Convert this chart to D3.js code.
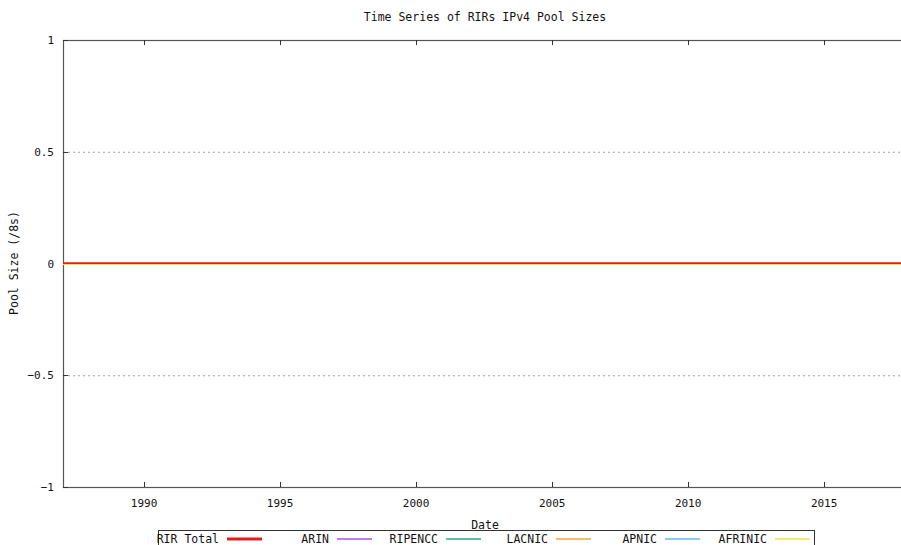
<!DOCTYPE html>
<html>
  <meta charset="utf-8" />
  <head>
    <title>RIR pool sizes</title>
    <script src="https://d3js.org/d3.v7.min.js"></script>
  </head>
  <style>
  body { margin: 0; background: #fff; }
  text { font-family: "DejaVu Sans Mono", monospace; fill: #111; }
  </style>
  <body>
  <svg width="901" height="545"></svg>
  <script>
    // sample dates (all pools read as zero over the whole range)
    var dates = ["1987-01-08", "1990-01-01", "1995-01-01", "2000-01-01", "2005-01-01", "2010-01-01", "2015-01-01", "2017-11-25"];
    var rirTotal = [0, 0, 0, 0, 0, 0, 0, 0];
    var arin     = [0, 0, 0, 0, 0, 0, 0, 0];
    var ripencc  = [0, 0, 0, 0, 0, 0, 0, 0];
    var lacnic   = [0, 0, 0, 0, 0, 0, 0, 0];
    var apnic    = [0, 0, 0, 0, 0, 0, 0, 0];
    var afrinic  = [0, 0, 0, 0, 0, 0, 0, 0];
    var seriesNames = ["RIR Total", "ARIN", "RIPENCC", "LACNIC", "APNIC", "AFRINIC"];
    var yTicks = [-1, -0.5, 0, 0.5, 1];
    var xTickYears = [1990, 1995, 2000, 2005, 2010, 2015];

    (function() {
    var parse = d3.timeParse("%Y-%m-%d");
    var colors = ["#e41c1c", "#b050ee", "#1fae88", "#f0a832", "#5fb8ee", "#f2e045"];
    var allValues = [rirTotal, arin, ripencc, lacnic, apnic, afrinic];
    var series = seriesNames.map(function(name, i) {
      return {name: name, color: colors[i], width: i == 0 ? 2.5 : 1.2,
        values: dates.map(function(d, j) { return {date: parse(d), v: allValues[i][j]}; })};
    });

    var svg = d3.select("svg"),
      mLeft = 63, mTop = 40, mRight = 903, mBottom = 487;

    var x = d3.scaleTime()
      .domain([parse("1987-01-08"), parse("2017-11-25")])
      .range([mLeft, mRight]);
    var y = d3.scaleLinear()
      .domain([-1, 1])
      .range([mBottom, mTop]);

    // dotted grid
    svg.append("g").selectAll("line")
      .data(yTicks.filter(function(d) { return d != 1 && d != -1; }))
      .enter().append("line")
        .attr("x1", mLeft).attr("x2", mRight)
        .attr("y1", function(d) { return y(d) + 0.5; })
        .attr("y2", function(d) { return y(d) + 0.5; })
        .attr("stroke", "#a0a0a0")
        .attr("stroke-dasharray", "2,3");

    // frame (right side runs off the image)
    svg.append("rect")
      .attr("x", mLeft + 0.5).attr("y", mTop + 0.5)
      .attr("width", mRight - mLeft + 20).attr("height", mBottom - mTop)
      .attr("fill", "none").attr("stroke", "#555").attr("stroke-width", 1.2);

    // x ticks, bottom + top, pointing inside
    var xt = xTickYears.map(function(yr) { return new Date(yr, 0, 1); });
    var xg = svg.append("g");
    xg.selectAll(".tb").data(xt).enter().append("line")
      .attr("x1", function(d) { return Math.round(x(d)) + 0.5; })
      .attr("x2", function(d) { return Math.round(x(d)) + 0.5; })
      .attr("y1", mBottom).attr("y2", mBottom - 5).attr("stroke", "#333");
    xg.selectAll(".tt").data(xt).enter().append("line")
      .attr("x1", function(d) { return Math.round(x(d)) + 0.5; })
      .attr("x2", function(d) { return Math.round(x(d)) + 0.5; })
      .attr("y1", mTop).attr("y2", mTop + 5).attr("stroke", "#333");
    xg.selectAll("text").data(xt).enter().append("text")
      .attr("x", function(d) { return x(d); })
      .attr("y", mBottom + 20)
      .attr("text-anchor", "middle")
      .attr("font-size", 11)
      .text(d3.timeFormat("%Y"));

    // y ticks
    var yg = svg.append("g");
    yg.selectAll("line").data(yTicks).enter().append("line")
      .attr("x1", mLeft).attr("x2", mLeft + 5)
      .attr("y1", function(d) { return Math.round(y(d)) + 0.5; })
      .attr("y2", function(d) { return Math.round(y(d)) + 0.5; })
      .attr("stroke", "#333");
    yg.selectAll("text").data(yTicks).enter().append("text")
      .attr("x", 54)
      .attr("y", function(d) { return y(d) + 4; })
      .attr("text-anchor", "end")
      .attr("font-size", 11)
      .text(function(d) { return d3.format("")(d); });

    // series lines
    var line = d3.line()
      .x(function(d) { return x(d.date); })
      .y(function(d) { return y(d.v); });
    svg.append("g").selectAll("path")
      .data(series)
      .enter().append("path")
        .attr("d", function(d) { return line(d.values); })
        .attr("transform", function(d, i) { return i == 0 ? null : "translate(0,1)"; })
        .attr("fill", "none")
        .attr("stroke", function(d) { return d.color; })
        .attr("stroke-width", function(d) { return d.width; });

    // titles
    svg.append("text")
      .attr("x", 485).attr("y", 21)
      .attr("text-anchor", "middle")
      .attr("font-size", 11.5)
      .text("Time Series of RIRs IPv4 Pool Sizes");
    svg.append("text")
      .attr("transform", "translate(18,263) rotate(-90)")
      .attr("text-anchor", "middle")
      .attr("font-size", 11.5)
      .text("Pool Size (/8s)");

    // legend
    var lg = svg.append("g");
    lg.append("rect")
      .attr("x", 158.5).attr("y", 530.5)
      .attr("width", 656).attr("height", 40)
      .attr("fill", "#fff").attr("stroke", "#333");
    var item = lg.selectAll(".item").data(series).enter().append("g")
      .attr("transform", function(d, i) { return "translate(" + Math.round(219 + i * 109.6) + ",0)"; });
    item.append("text")
      .attr("x", 0).attr("y", 543)
      .attr("text-anchor", "end")
      .attr("font-size", 11.5)
      .text(function(d) { return d.name; });
    item.append("line")
      .attr("x1", 8).attr("x2", 43)
      .attr("y1", 539).attr("y2", 539)
      .attr("stroke", function(d) { return d.color; })
      .attr("stroke-width", function(d, i) { return i == 0 ? 3 : 1.6; });

    svg.append("text")
      .attr("x", 485).attr("y", 529)
      .attr("text-anchor", "middle")
      .attr("font-size", 11.5)
      .text("Date");
    })();
  </script>
  </body>
</html>
